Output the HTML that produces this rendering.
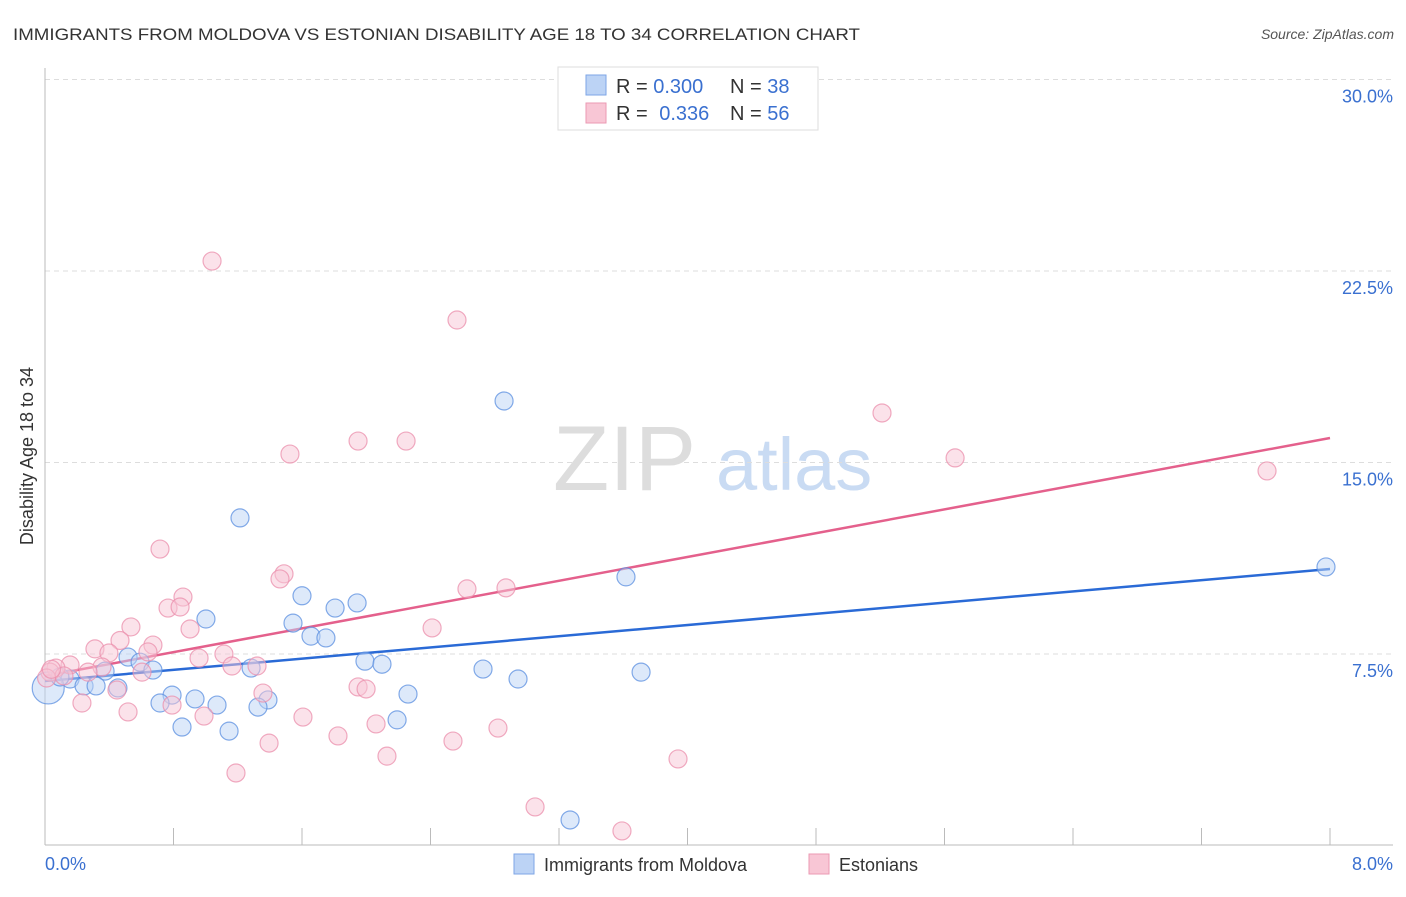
<!DOCTYPE html>
<html><head><meta charset="utf-8"><style>
body{margin:0;background:#fff;font-family:"Liberation Sans",sans-serif;}
svg text{font-family:"Liberation Sans",sans-serif;}
</style></head><body>
<svg id="chart" width="1406" height="892" xmlns="http://www.w3.org/2000/svg">
<text x="13" y="40" font-size="17" fill="#333" textLength="847" lengthAdjust="spacingAndGlyphs">IMMIGRANTS FROM MOLDOVA VS ESTONIAN DISABILITY AGE 18 TO 34 CORRELATION CHART</text>
<text x="1394" y="39" font-size="14" fill="#555" text-anchor="end" font-style="italic">Source: ZipAtlas.com</text>
<g>
<text x="553" y="490" font-size="92" fill="#ddd" font-family="Liberation Serif">ZIP</text>
<text x="716" y="490" font-size="74" fill="#c9dbf3">atlas</text>
</g>
<g id="grid"></g>
<g id="axes"></g>
<g id="lines"></g>
<g id="points"></g>
<text transform="translate(33,456) rotate(-90)" font-size="18" fill="#333" text-anchor="middle">Disability Age 18 to 34</text>
<g>
<rect x="558" y="67" width="260" height="63" fill="#fff" stroke="#ddd"/>
<rect x="586" y="75" width="20" height="20" fill="#bcd3f5" stroke="#7ea6e6"/>
<rect x="586" y="103" width="20" height="20" fill="#f8c6d5" stroke="#eb9ab3"/>
<text x="616" y="93" font-size="20" fill="#333">R = <tspan fill="#3a70d0">0.300</tspan></text>
<text x="730" y="93" font-size="20" fill="#333">N = <tspan fill="#3a70d0">38</tspan></text>
<text x="616" y="120" font-size="20" fill="#333">R = <tspan fill="#3a70d0" dx="6">0.336</tspan></text>
<text x="730" y="120" font-size="20" fill="#333">N = <tspan fill="#3a70d0">56</tspan></text>
</g>
<g>
<rect x="514" y="854" width="20" height="20" fill="#bcd3f5" stroke="#7ea6e6"/>
<text x="544" y="871" font-size="18" fill="#333">Immigrants from Moldova</text>
<rect x="809" y="854" width="20" height="20" fill="#f8c6d5" stroke="#eb9ab3"/>
<text x="839" y="871" font-size="18" fill="#333">Estonians</text>
</g>
</svg>
<script>
const xTickLabels=["0.0%","8.0%"];
const yTicks=[7.5,15,22.5,30];
const yTickLabels=["7.5%","15.0%","22.5%","30.0%"];
const blueX=[2.858,1.214,3.617,7.975,1.600,1.943,1.806,1.002,1.544,1.656,1.749,0.517,0.592,1.992,2.098,1.283,0.672,0.374,2.727,3.711,0.156,2.945,0.243,0.318,0.454,2.260,0.791,0.934,1.388,0.716,1.071,1.326,2.192,0.853,1.146,3.269,0.02,0.093];
const blueY=[17.41,12.83,10.52,10.91,9.78,9.50,9.30,8.87,8.71,8.20,8.13,7.38,7.18,7.22,7.10,6.95,6.87,6.83,6.91,6.79,6.52,6.52,6.25,6.25,6.17,5.93,5.89,5.74,5.70,5.58,5.50,5.42,4.92,4.64,4.48,1.00,6.17,6.60];
const pinkX=[1.040,2.565,5.211,1.949,2.248,1.525,5.666,7.608,0.716,1.488,1.463,2.627,2.870,0.859,0.766,0.841,0.535,0.903,2.410,0.467,0.672,0.311,0.641,0.398,0.959,1.114,1.164,1.320,0.156,0.355,0.068,0.604,0.268,0.031,0.118,1.949,1.999,1.357,0.448,0.230,0.791,0.517,0.990,1.606,2.061,2.820,1.824,2.540,1.395,2.129,3.941,1.189,3.051,3.592,0.01,0.04];
const pinkY=[22.89,20.58,16.94,15.84,15.84,15.33,15.18,14.67,11.61,10.64,10.44,10.05,10.09,9.73,9.30,9.34,8.56,8.48,8.52,8.03,7.85,7.70,7.58,7.54,7.34,7.50,7.03,7.03,7.07,6.99,6.95,6.79,6.79,6.79,6.64,6.21,6.13,5.97,6.09,5.58,5.50,5.23,5.07,5.03,4.76,4.60,4.29,4.09,4.01,3.50,3.39,2.84,1.51,0.57,6.56,6.9];
const blueTrend=[6.44,10.83];
const pinkTrend=[6.64,15.96];
const NS="http://www.w3.org/2000/svg";
const X=v=>45+v/8*1285, Y=v=>845.5-v/7.5*191.5;
function mk(t,a,p){const e=document.createElementNS(NS,t);for(const k in a)e.setAttribute(k,a[k]);document.getElementById(p).appendChild(e);return e;}
yTicks.forEach((t,i)=>{
 const g=mk('line',{x1:45,x2:1393,y1:Y(t),y2:Y(t),stroke:'#ddd','stroke-dasharray':'5,4'},'grid');
 
 
 const l=mk('text',{x:1393,y:Y(t)+23,'font-size':18,fill:'#3a70d0','text-anchor':'end'},'grid');
 l.textContent=yTickLabels[i];
 
 
});
const ax=mk('line',{x1:45,x2:1393,y1:845,y2:845,stroke:'#bbb'},'axes');


const ay=mk('line',{x1:45,x2:45,y1:68,y2:845,stroke:'#bbb'},'axes');


for(let i=1;i<=10;i++){const t=mk('line',{x1:X(i*0.8),x2:X(i*0.8),y1:828,y2:845,stroke:'#bbb'},'axes');
 
 }
[[0,'start',45],[1,'end',1393]].forEach(([i,a,x])=>{const t=mk('text',{x:x,y:870,'font-size':18,fill:'#3a70d0','text-anchor':a},'axes');t.textContent=xTickLabels[i];
 
 });
function pts(xs,ys,fill,stroke,name,bigIdx){xs.forEach((x,i)=>{const r=(i===bigIdx)?16:9;const c=mk('circle',{cx:X(x),cy:Y(ys[i]),r:r,fill:fill,'fill-opacity':0.5,stroke:stroke,'stroke-opacity':0.75,'stroke-width':1.2},'points');
 
 });}
pts(blueX,blueY,'#bcd3f5','#5b8fe0','moldova-point',36);
pts(pinkX,pinkY,'#f8c6d5','#eb8fac','estonian-point',-1);
const bl=mk('line',{x1:X(0),x2:X(8),y1:Y(blueTrend[0]),y2:Y(blueTrend[1]),stroke:'#2a6ad6','stroke-width':2.5},'lines');


const pl=mk('line',{x1:X(0),x2:X(8),y1:Y(pinkTrend[0]),y2:Y(pinkTrend[1]),stroke:'#e4608c','stroke-width':2.5},'lines');


</script>
</body></html>
